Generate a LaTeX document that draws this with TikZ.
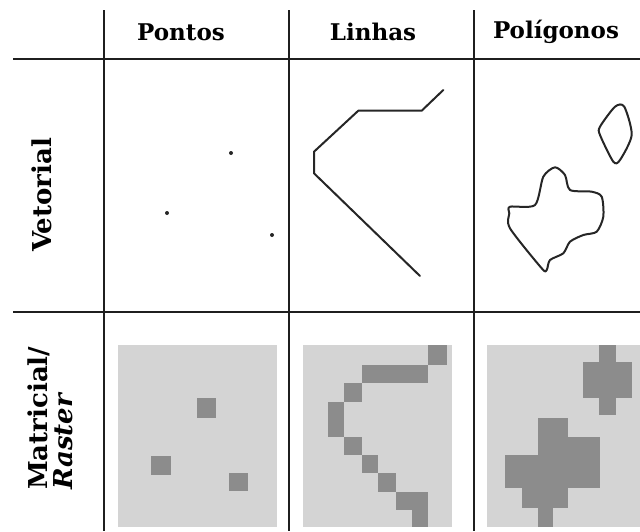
\documentclass[tikz,border=0pt]{standalone}
\usepackage{fontspec}
\setmainfont{DejaVu Serif}
\begin{document}
\begin{tikzpicture}[x=1pt,y=-1pt,
  rule/.style={draw=black!88, line width=2.6pt},
  head/.style={font=\fontsize{23}{26}\selectfont\bfseries, inner sep=0pt},
  side/.style={font=\fontsize{26}{29}\selectfont\bfseries, inner sep=0pt, rotate=90},
  vecline/.style={draw=black!85, line width=2pt, line join=round, line cap=round},
  rasterbg/.style={fill=black!17},
  cell/.style={fill=black!45}]
\useasboundingbox (0,0) rectangle (640,531);
% grid rules
\draw[rule] (104,10) -- (104,531);
\draw[rule] (289,10) -- (289,531);
\draw[rule] (474,10) -- (474,531);
\draw[rule] (13,59) -- (640,59);
\draw[rule] (13,312) -- (640,312);
% headers
\node[head] (hp) at (181,32) {Pontos};
\node[head] (hl) at (373,32) {Linhas};
\node[head] (hg) at (556,32) {Polígonos};
% side labels
\node[side] (sv) at (42,195) {Vetorial};
\node[side, anchor=south west] (sm) at (50,490) {Matricial/};
\node[side, anchor=south west, font=\fontsize{26}{29}\selectfont\bfseries\itshape] (sr) at (73,490) {Raster};
% vector points
\fill[black!85] (231,153) circle (2pt) (167,213) circle (2pt) (272,235) circle (2pt);
% vector line
\draw[vecline] (443.3,90) -- (421.7,110.7) -- (358.3,110.7) -- (314,151.7) -- (314,173.3) -- (420,276);
% vector polygons
\draw[vecline] plot[smooth cycle, tension=0.45] coordinates {(615,106.7) (624.3,106.7) (631.7,135) (620,160) (613.3,161.7) (600,135) (600,126.7)};
\draw[vecline] plot[smooth cycle, tension=0.45] coordinates {(510,206.7) (535,205) (543.3,176.7) (555,167.3) (565,175) (570,190) (591.7,191.7) (601.7,196.7) (603.3,216.7) (596.7,231.7) (583.3,235) (570,241.7) (563.3,253.3) (550,260) (546.7,270) (541.7,268.3) (510,228.3) (509.3,213.3)};
% raster backgrounds
\fill[rasterbg] (118,345) rectangle (277,527);
\fill[rasterbg] (303,345) rectangle (452,527);
\fill[rasterbg] (487,345) rectangle (640,527);
% raster points
\fill[cell] (197,398) rectangle (216,418);
\fill[cell] (151,456) rectangle (171,475);
\fill[cell] (229,473) rectangle (248,491);
% raster line
\fill[cell] (428.3,345) rectangle (446.7,365);
\fill[cell] (361.7,365) rectangle (428.3,383.3);
\fill[cell] (344.3,383.3) rectangle (361.7,401.7);
\fill[cell] (327.7,401.7) rectangle (344.3,436.7);
\fill[cell] (344.3,436.7) rectangle (361.7,455);
\fill[cell] (361.7,455) rectangle (378.3,473.3);
\fill[cell] (378.3,473.3) rectangle (396,491.7);
\fill[cell] (396,491.7) rectangle (428.3,510);
\fill[cell] (411.7,510) rectangle (428.3,527);
% raster polygons
\fill[cell] (583.3,361.7) rectangle (631.7,398.3);
\fill[cell] (599.3,345) rectangle (615.7,415);
\fill[cell] (538.3,418.3) rectangle (568.3,436.7);
\fill[cell] (538.3,436.7) rectangle (600,455);
\fill[cell] (505,455) rectangle (600,488.3);
\fill[cell] (521.7,488.3) rectangle (568.3,508.3);
\fill[cell] (538.3,508.3) rectangle (553.3,527);
\end{tikzpicture}
\end{document}
